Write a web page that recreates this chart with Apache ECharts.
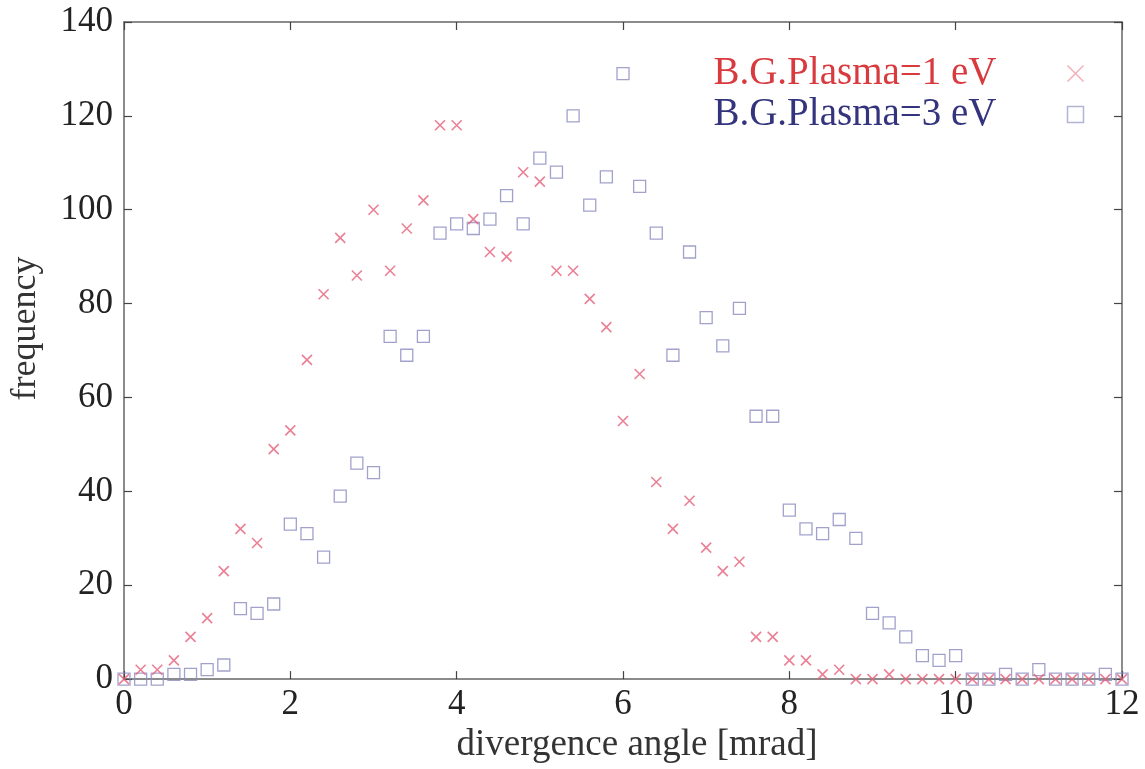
<!DOCTYPE html>
<html>
<head>
<meta charset="utf-8">
<script src="https://cdn.jsdelivr.net/npm/echarts@6/dist/echarts.min.js"></script>
<style>
html,body{margin:0;padding:0;background:#fff;}
#chart{width:1145px;height:769px;}
</style>
</head>
<body>
<div id="chart"></div>
<script>
// divergence angle [mrad], step 0.2 from 0 to 12
const angles = [];
for (let i = 0; i <= 60; i++) angles.push(+(i * 0.2).toFixed(1));

const freq1eV = [0,2,2,4,9,13,23,32,29,49,53,68,82,94,86,100,87,96,102,118,118,98,91,90,108,106,87,87,81,75,55,65,42,32,38,28,23,25,9,9,4,4,1,2,0,0,1,0,0,0,0,0,0,0,0,0,0,0,0,0,0];
const freq3eV = [0,0,0,1,1,2,3,15,14,16,33,31,26,39,46,44,73,69,73,95,97,96,98,103,97,111,108,120,101,107,129,105,95,69,91,77,71,79,56,56,36,32,31,34,30,14,12,9,5,4,5,0,0,1,0,2,0,0,0,1,0];

const seriesNames = ['B.G.Plasma=1 eV', 'B.G.Plasma=3 eV'];
const xTicks = [0, 2, 4, 6, 8, 10, 12];
const yTicks = [0, 20, 40, 60, 80, 100, 120, 140];

const toPairs = (ys) => angles.map((x, i) => [x, ys[i]]);

const font = 'Liberation Serif, "Times New Roman", serif';
const axisColor = '#666';
const crossPath = 'path://M0,0L10,10M10,0L0,10';

const chart = echarts.init(document.getElementById('chart'));
const commonAxis = () => ({
  axisLine: { show: true, onZero: false, lineStyle: { color: axisColor, width: 1.5 } },
  axisTick: { show: true, inside: true, length: 8, lineStyle: { color: '#444', width: 1.2 } },
  splitLine: { show: false },
  minorTick: { show: false }
});
chart.setOption({
  backgroundColor: '#fff',
  animation: false,
  grid: { left: 123, right: 23, top: 22, bottom: 87, containLabel: false },
  xAxis: [
    Object.assign(commonAxis(), {
      type: 'value', position: 'bottom', min: xTicks[0], max: xTicks[xTicks.length - 1], interval: 2,
      name: 'divergence angle [mrad]', nameLocation: 'middle', nameGap: 46,
      nameTextStyle: { fontFamily: font, fontSize: 37, color: '#333', padding: [0, 0, 0, 28] },
      axisLabel: { fontFamily: font, fontSize: 35, color: '#222', margin: 8 }
    }),
    Object.assign(commonAxis(), {
      type: 'value', position: 'top', min: xTicks[0], max: xTicks[xTicks.length - 1], interval: 2,
      axisLabel: { show: false }
    })
  ],
  yAxis: [
    Object.assign(commonAxis(), {
      type: 'value', position: 'left', min: yTicks[0], max: yTicks[yTicks.length - 1], interval: 20,
      name: 'frequency', nameLocation: 'middle', nameGap: 80,
      nameTextStyle: { fontFamily: font, fontSize: 36, color: '#333', padding: [0, 0, 0, 44] },
      axisLabel: { fontFamily: font, fontSize: 35, color: '#222', margin: 11 }
    }),
    Object.assign(commonAxis(), {
      type: 'value', position: 'right', min: yTicks[0], max: yTicks[yTicks.length - 1], interval: 20,
      axisLabel: { show: false }
    })
  ],
  legend: {
    orient: 'vertical', align: 'right', right: 54, top: 49,
    itemWidth: 16, itemHeight: 16, itemGap: 2,
    data: [
      { name: seriesNames[0], icon: crossPath, itemStyle: { color: 'none', borderColor: '#f09aa4', borderWidth: 1.5 },
        textStyle: { color: '#d83a3e' } },
      { name: seriesNames[1], icon: 'rect', itemStyle: { color: 'none', borderColor: '#a0a0c8', borderWidth: 1.5 },
        textStyle: { color: '#34347e' } }
    ],
    textStyle: { fontFamily: font, fontSize: 39, lineHeight: 36, padding: [0, 66, 0, 0] }
  },
  series: [
    {
      name: seriesNames[0], type: 'scatter', data: toPairs(freq1eV),
      symbol: crossPath, symbolSize: 10,
      itemStyle: { color: 'none', borderColor: '#e5607a', borderWidth: 1.6 },
      z: 3
    },
    {
      name: seriesNames[1], type: 'scatter', data: toPairs(freq3eV),
      symbol: 'rect', symbolSize: 12,
      itemStyle: { color: 'none', borderColor: '#8a8abf', borderWidth: 1.3 },
      z: 2
    }
  ]
});
</script>
</body>
</html>
